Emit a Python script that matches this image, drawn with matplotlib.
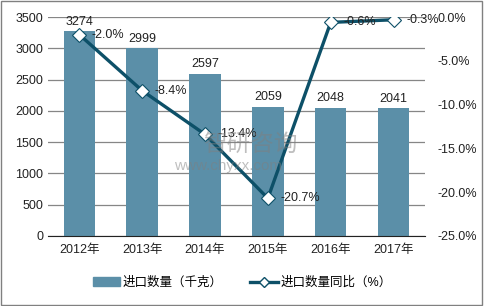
import matplotlib
matplotlib.use("Agg")
import matplotlib.pyplot as plt
from matplotlib.lines import Line2D
from matplotlib.patches import Patch

plt.rcParams['font.family'] = ['Liberation Sans', 'Noto Sans CJK SC', 'DejaVu Sans']

years = ['2012年', '2013年', '2014年', '2015年', '2016年', '2017年']
qty = [3274, 2999, 2597, 2059, 2048, 2041]
yoy = [-2.0, -8.4, -13.4, -20.7, -0.6, -0.3]
yoy_labels = ['-2.0%', '-8.4%', '-13.4%', '-20.7%', '-0.6%', '-0.3%']

bar_color = '#5B8FA8'
line_color = '#0D5068'
fs = 9

fig = plt.figure(figsize=(4.84, 3.06), dpi=100)
ax = fig.add_axes([0.099, 0.229, 0.779, 0.715])
x = range(len(years))

ax.bar(x, qty, width=0.5, color=bar_color, zorder=2)
for i, v in enumerate(qty):
    ax.text(i, v + 60, str(v), ha='center', va='bottom', fontsize=fs, color='#222222')

ax.set_ylim(0, 3500)
ax.set_yticks(range(0, 3501, 500))
ax.set_xlim(-0.5, 5.5)
ax.set_xticks(list(x))
ax.set_xticklabels(years)
ax.grid(axis='y', color='#868686', linewidth=0.9, zorder=0)
for s in ['top', 'right', 'left']:
    ax.spines[s].set_visible(False)
ax.spines['bottom'].set_color('#222222')
ax.tick_params(length=0, labelsize=fs, colors='#222222')
ax.tick_params(axis='x', pad=6)

# watermark
fig.text(0.42, 0.505, '智研咨询', fontsize=17, color='#7F7F7F', alpha=0.5)
fig.text(0.36, 0.445, 'www.chyxx.com', fontsize=11, color='#7F7F7F', alpha=0.5)

ax2 = ax.twinx()
ax2.plot(x, yoy, color=line_color, linewidth=2.4, marker='D', markersize=7,
         markerfacecolor='white', markeredgecolor=line_color, markeredgewidth=0.8, zorder=3)
for i, (v, lab) in enumerate(zip(yoy, yoy_labels)):
    ax2.text(i + 0.2, v, lab, ha='left', va='center', fontsize=fs, color='#222222')
ax2.set_ylim(-25, 0)
ax2.set_yticks(range(-25, 1, 5))
ax2.set_yticklabels(['%.1f%%' % t for t in range(-25, 1, 5)])
for s in ax2.spines.values():
    s.set_visible(False)
ax2.tick_params(length=0, labelsize=fs, colors='#222222', pad=9)

handles = [Patch(color=bar_color),
           Line2D([0], [0], color=line_color, linewidth=2.4, marker='D', markersize=5,
                  markerfacecolor='white', markeredgecolor=line_color)]
fig.legend(handles, ['进口数量（千克）', '进口数量同比（%）'], loc='center',
           bbox_to_anchor=(0.5, 0.075), ncol=2, frameon=False, fontsize=fs,
           handlelength=2.2, handletextpad=0.2, columnspacing=2.2)

fig.patches.append(plt.Rectangle((0.002, 0.003), 0.994, 0.993, transform=fig.transFigure,
                                 fill=False, edgecolor='#808080', linewidth=1))

fig.savefig('out.png', dpi=100)
